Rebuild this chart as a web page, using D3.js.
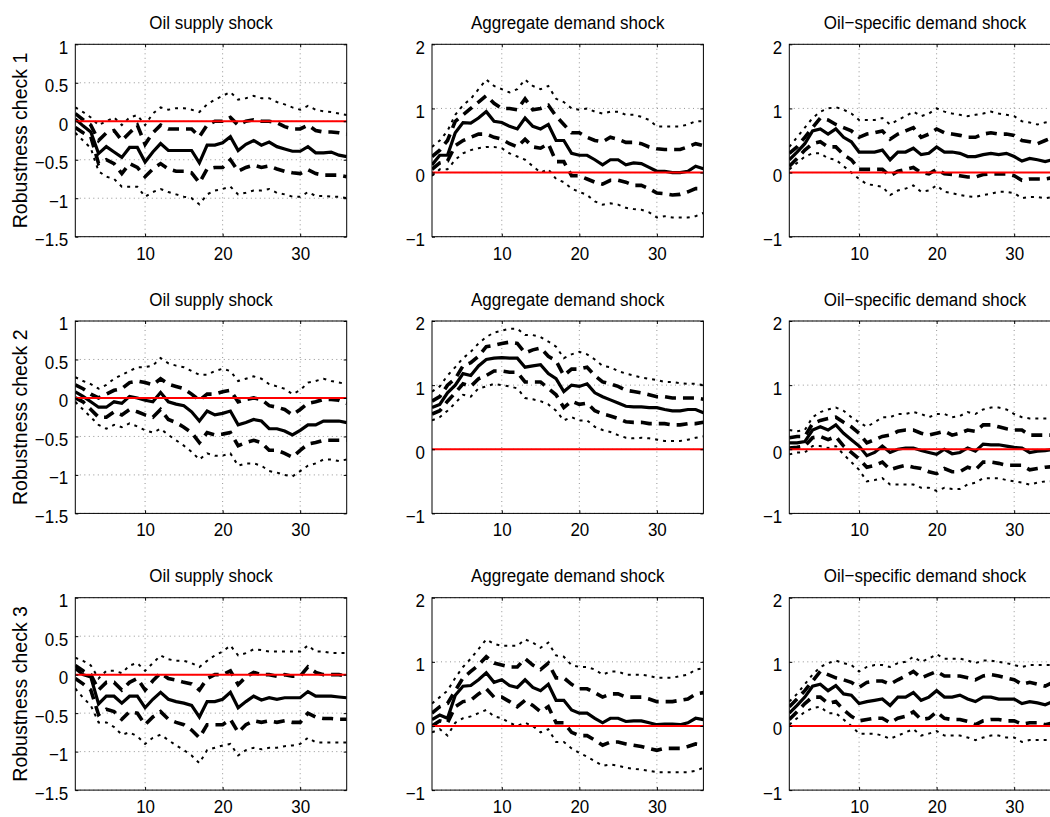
<!DOCTYPE html>
<html>
<head>
<meta charset="utf-8">
<script src="https://cdn.jsdelivr.net/npm/d3@7"></script>
<style>
  body { margin: 0; background: #fff; }
  svg { display: block; }
</style>
</head>
<body>
<svg id="chart" width="1050" height="817"></svg>
<script>
// Impulse responses over 36 horizons: median (solid), 68% band (dashed), 95% band (dotted)
const horizons = d3.range(1, 37);
const rowLabels = ["Robustness check 1", "Robustness check 2", "Robustness check 3"];
const shockTitles = ["Oil supply shock", "Aggregate demand shock", "Oil\u2212specific demand shock"];
const supplyTicks = [-1.5, -1, -0.5, 0, 0.5, 1];
const demandTicks = [-1, 0, 1, 2];
const xTicks = [10, 20, 30];

// ---- Robustness check 1 ----
const supply1Med = [0.03,-0.06,-0.14,-0.42,-0.33,-0.40,-0.47,-0.34,-0.34,-0.53,-0.40,-0.29,-0.38,-0.38,-0.38,-0.38,-0.54,-0.31,-0.31,-0.28,-0.20,-0.38,-0.30,-0.25,-0.31,-0.27,-0.33,-0.36,-0.39,-0.39,-0.33,-0.41,-0.41,-0.40,-0.44,-0.46];
const supply1Hi68 = [0.10,0.02,-0.05,-0.25,-0.15,-0.12,-0.25,-0.15,-0.05,-0.30,-0.15,-0.05,-0.10,-0.10,-0.10,-0.10,-0.20,-0.05,0.00,0.00,0.05,-0.05,0.00,0.02,0.00,0.00,-0.02,-0.07,-0.10,-0.10,-0.05,-0.12,-0.14,-0.14,-0.15,-0.17];
const supply1Lo68 = [-0.08,-0.15,-0.20,-0.55,-0.50,-0.55,-0.68,-0.55,-0.60,-0.72,-0.62,-0.55,-0.62,-0.65,-0.65,-0.67,-0.80,-0.62,-0.60,-0.60,-0.50,-0.65,-0.60,-0.57,-0.60,-0.58,-0.62,-0.65,-0.67,-0.68,-0.63,-0.68,-0.70,-0.70,-0.70,-0.72];
const supply1Hi95 = [0.18,0.12,0.05,-0.05,0.00,0.05,-0.05,0.05,0.08,-0.05,0.10,0.18,0.15,0.17,0.17,0.15,0.12,0.22,0.28,0.33,0.38,0.28,0.30,0.33,0.30,0.30,0.25,0.22,0.18,0.15,0.20,0.15,0.13,0.12,0.10,0.08];
const supply1Lo95 = [-0.15,-0.25,-0.35,-0.65,-0.72,-0.75,-0.85,-0.85,-0.85,-0.98,-0.92,-0.88,-0.92,-0.95,-0.98,-1.00,-1.08,-0.95,-0.90,-0.88,-0.85,-0.95,-0.93,-0.90,-0.90,-0.88,-0.93,-0.95,-0.98,-0.98,-0.92,-0.97,-0.97,-0.98,-0.98,-1.00];

const demand1Med = [0.12,0.27,0.27,0.62,0.78,0.77,0.85,0.95,0.80,0.78,0.72,0.68,0.85,0.72,0.68,0.75,0.50,0.50,0.30,0.27,0.27,0.20,0.12,0.20,0.20,0.12,0.15,0.14,0.08,0.02,0.02,0.00,0.00,0.02,0.10,0.06];
const demand1Hi68 = [0.25,0.35,0.50,0.80,0.90,1.00,1.10,1.20,1.08,1.00,1.00,0.98,1.15,0.98,1.00,1.05,0.88,0.75,0.62,0.62,0.55,0.50,0.48,0.55,0.52,0.47,0.47,0.45,0.40,0.37,0.36,0.36,0.36,0.40,0.45,0.42];
const demand1Lo68 = [0.05,0.15,0.18,0.42,0.50,0.55,0.60,0.60,0.55,0.52,0.45,0.40,0.52,0.40,0.38,0.45,0.17,0.17,-0.05,-0.05,-0.10,-0.15,-0.18,-0.12,-0.12,-0.15,-0.20,-0.20,-0.25,-0.32,-0.33,-0.35,-0.34,-0.30,-0.25,-0.25];
const demand1Hi95 = [0.40,0.50,0.65,0.90,1.05,1.15,1.30,1.45,1.35,1.30,1.25,1.30,1.45,1.35,1.30,1.35,1.15,1.10,1.00,0.98,1.00,0.95,0.92,0.95,0.95,0.90,0.90,0.87,0.82,0.72,0.72,0.72,0.72,0.75,0.80,0.80];
const demand1Lo95 = [-0.05,0.05,0.05,0.20,0.30,0.35,0.38,0.40,0.40,0.38,0.30,0.25,0.20,0.10,0.00,0.05,-0.10,-0.15,-0.25,-0.30,-0.35,-0.45,-0.50,-0.48,-0.50,-0.55,-0.57,-0.58,-0.62,-0.70,-0.68,-0.70,-0.70,-0.70,-0.68,-0.63];

const oil1Med = [0.20,0.32,0.45,0.65,0.68,0.60,0.68,0.55,0.48,0.32,0.32,0.32,0.35,0.20,0.32,0.32,0.38,0.28,0.30,0.40,0.32,0.32,0.30,0.25,0.25,0.28,0.30,0.28,0.30,0.25,0.18,0.22,0.20,0.17,0.20,0.20];
const oil1Hi68 = [0.30,0.40,0.55,0.70,0.85,0.82,0.75,0.70,0.65,0.55,0.60,0.62,0.65,0.52,0.60,0.65,0.70,0.55,0.60,0.68,0.62,0.60,0.58,0.55,0.55,0.60,0.62,0.60,0.60,0.58,0.50,0.48,0.45,0.50,0.55,0.50];
const oil1Lo68 = [0.10,0.22,0.35,0.45,0.48,0.40,0.40,0.28,0.20,0.05,0.05,0.05,0.05,-0.05,0.02,0.05,0.08,0.00,-0.02,0.05,-0.02,-0.03,-0.05,-0.07,-0.07,-0.03,-0.02,-0.02,-0.02,-0.05,-0.12,-0.10,-0.10,-0.10,-0.08,-0.10];
const oil1Hi95 = [0.40,0.55,0.70,0.85,0.95,1.00,1.02,0.98,0.92,0.82,0.82,0.82,0.85,0.75,0.82,0.88,0.95,0.88,0.92,1.00,0.95,0.92,0.90,0.88,0.90,0.92,0.95,0.92,0.90,0.88,0.80,0.78,0.75,0.78,0.80,0.80];
const oil1Lo95 = [0.05,0.15,0.25,0.30,0.30,0.22,0.20,0.10,0.00,-0.10,-0.18,-0.20,-0.22,-0.35,-0.28,-0.25,-0.20,-0.30,-0.28,-0.20,-0.30,-0.32,-0.35,-0.37,-0.38,-0.35,-0.33,-0.30,-0.30,-0.32,-0.40,-0.38,-0.38,-0.40,-0.38,-0.40];

// ---- Robustness check 2 ----
const supply2Med = [0.08,0.02,-0.05,-0.12,-0.12,-0.05,-0.07,0.02,0.00,-0.03,-0.05,0.07,-0.05,-0.08,-0.10,-0.18,-0.30,-0.17,-0.22,-0.20,-0.17,-0.35,-0.32,-0.28,-0.30,-0.40,-0.40,-0.43,-0.48,-0.42,-0.35,-0.35,-0.30,-0.30,-0.30,-0.32];
const supply2Hi68 = [0.17,0.12,0.05,0.00,0.05,0.10,0.12,0.20,0.22,0.20,0.17,0.25,0.18,0.15,0.12,0.05,-0.03,0.05,0.05,0.08,0.10,-0.05,-0.02,0.00,-0.02,-0.10,-0.12,-0.15,-0.22,-0.15,-0.07,-0.05,-0.02,-0.02,-0.03,-0.07];
const supply2Lo68 = [0.00,-0.05,-0.15,-0.25,-0.25,-0.18,-0.22,-0.15,-0.18,-0.22,-0.25,-0.15,-0.28,-0.32,-0.38,-0.45,-0.58,-0.45,-0.48,-0.47,-0.45,-0.62,-0.58,-0.55,-0.58,-0.68,-0.68,-0.72,-0.77,-0.68,-0.60,-0.58,-0.55,-0.55,-0.55,-0.55];
const supply2Hi95 = [0.27,0.22,0.18,0.12,0.17,0.25,0.30,0.35,0.40,0.40,0.42,0.52,0.45,0.42,0.40,0.35,0.30,0.30,0.35,0.38,0.35,0.22,0.25,0.28,0.25,0.18,0.15,0.12,0.05,0.10,0.20,0.22,0.25,0.22,0.20,0.18];
const supply2Lo95 = [-0.05,-0.15,-0.25,-0.35,-0.40,-0.35,-0.38,-0.33,-0.37,-0.42,-0.45,-0.40,-0.48,-0.55,-0.62,-0.70,-0.80,-0.72,-0.75,-0.75,-0.72,-0.88,-0.85,-0.85,-0.88,-0.95,-0.97,-1.00,-1.02,-0.95,-0.88,-0.85,-0.80,-0.80,-0.82,-0.80];

const demand2Med = [0.65,0.70,0.88,1.00,1.18,1.15,1.30,1.40,1.42,1.43,1.42,1.42,1.28,1.30,1.32,1.18,1.10,0.90,1.00,0.98,1.02,0.88,0.82,0.77,0.72,0.67,0.66,0.66,0.65,0.65,0.62,0.60,0.60,0.62,0.62,0.57];
const demand2Hi68 = [0.75,0.82,1.00,1.10,1.30,1.35,1.45,1.60,1.62,1.65,1.67,1.65,1.50,1.55,1.58,1.45,1.38,1.15,1.25,1.25,1.28,1.15,1.05,1.02,0.98,0.92,0.90,0.88,0.85,0.82,0.82,0.80,0.80,0.80,0.80,0.78];
const demand2Lo68 = [0.55,0.60,0.75,0.88,1.02,0.98,1.10,1.15,1.22,1.22,1.20,1.20,1.05,1.05,1.05,0.95,0.85,0.65,0.75,0.70,0.72,0.60,0.55,0.52,0.48,0.43,0.42,0.42,0.40,0.40,0.40,0.38,0.38,0.40,0.40,0.42];
const demand2Hi95 = [0.90,0.98,1.15,1.28,1.42,1.52,1.65,1.75,1.82,1.85,1.88,1.88,1.78,1.78,1.75,1.68,1.60,1.42,1.48,1.52,1.48,1.40,1.30,1.28,1.22,1.18,1.15,1.12,1.10,1.08,1.05,1.05,1.03,1.02,1.02,1.00];
const demand2Lo95 = [0.45,0.50,0.60,0.72,0.85,0.82,0.95,0.98,1.02,1.00,0.98,0.95,0.80,0.78,0.75,0.70,0.60,0.45,0.50,0.45,0.45,0.35,0.30,0.27,0.22,0.18,0.17,0.18,0.17,0.15,0.13,0.13,0.13,0.15,0.18,0.20];

const oil2Med = [0.10,0.10,0.12,0.30,0.35,0.30,0.38,0.25,0.15,0.05,-0.10,-0.05,0.05,-0.05,0.00,0.02,0.02,-0.02,-0.05,-0.08,0.00,-0.07,-0.05,0.02,-0.03,0.08,0.07,0.07,0.05,0.03,0.02,-0.05,-0.03,-0.02,0.00,-0.02];
const oil2Hi68 = [0.18,0.20,0.20,0.40,0.45,0.48,0.50,0.42,0.35,0.25,0.10,0.15,0.20,0.22,0.28,0.30,0.30,0.25,0.22,0.25,0.28,0.22,0.25,0.30,0.28,0.38,0.38,0.35,0.32,0.30,0.30,0.22,0.22,0.22,0.22,0.22];
const oil2Lo68 = [0.02,0.03,0.05,0.18,0.20,0.15,0.20,0.05,-0.05,-0.15,-0.28,-0.25,-0.20,-0.32,-0.28,-0.25,-0.28,-0.30,-0.35,-0.38,-0.30,-0.35,-0.35,-0.28,-0.32,-0.20,-0.20,-0.22,-0.25,-0.25,-0.25,-0.32,-0.30,-0.28,-0.27,-0.27];
const oil2Hi95 = [0.30,0.28,0.30,0.50,0.58,0.62,0.65,0.60,0.50,0.42,0.35,0.42,0.50,0.50,0.55,0.55,0.58,0.55,0.50,0.55,0.55,0.50,0.52,0.58,0.55,0.62,0.65,0.65,0.62,0.55,0.50,0.48,0.48,0.48,0.48,0.48];
const oil2Lo95 = [-0.08,-0.05,-0.05,0.05,0.05,0.02,0.05,-0.08,-0.20,-0.32,-0.50,-0.48,-0.45,-0.55,-0.55,-0.55,-0.55,-0.60,-0.60,-0.65,-0.60,-0.62,-0.62,-0.55,-0.52,-0.45,-0.45,-0.45,-0.48,-0.50,-0.52,-0.55,-0.52,-0.50,-0.50,-0.50];

// ---- Robustness check 3 ----
const supply3Med = [0.08,0.00,-0.03,-0.38,-0.28,-0.28,-0.37,-0.28,-0.28,-0.43,-0.32,-0.23,-0.32,-0.35,-0.37,-0.40,-0.55,-0.35,-0.35,-0.32,-0.23,-0.43,-0.35,-0.28,-0.33,-0.30,-0.32,-0.30,-0.30,-0.30,-0.22,-0.28,-0.28,-0.28,-0.29,-0.30];
const supply3Hi68 = [0.12,0.05,0.00,-0.20,-0.10,-0.10,-0.20,-0.10,-0.05,-0.20,-0.08,0.02,-0.05,-0.07,-0.10,-0.12,-0.20,-0.05,0.00,0.00,0.05,-0.13,-0.03,0.03,0.00,0.00,-0.02,0.00,-0.02,-0.02,0.10,0.03,0.00,0.00,0.00,-0.02];
const supply3Lo68 = [-0.05,-0.12,-0.20,-0.52,-0.45,-0.48,-0.58,-0.48,-0.50,-0.65,-0.55,-0.48,-0.58,-0.62,-0.65,-0.72,-0.82,-0.65,-0.65,-0.65,-0.58,-0.75,-0.65,-0.60,-0.62,-0.60,-0.62,-0.60,-0.62,-0.62,-0.50,-0.55,-0.57,-0.57,-0.58,-0.58];
const supply3Hi95 = [0.22,0.18,0.12,-0.05,0.05,0.05,0.02,0.12,0.15,0.05,0.15,0.25,0.20,0.18,0.18,0.15,0.10,0.18,0.25,0.30,0.38,0.25,0.28,0.33,0.32,0.30,0.30,0.30,0.30,0.30,0.38,0.30,0.30,0.28,0.28,0.28];
const supply3Lo95 = [-0.18,-0.30,-0.40,-0.62,-0.62,-0.68,-0.78,-0.75,-0.80,-0.90,-0.82,-0.78,-0.85,-0.92,-0.98,-1.05,-1.15,-0.98,-0.95,-0.92,-0.90,-1.05,-0.98,-0.95,-0.97,-0.95,-0.95,-0.93,-0.92,-0.90,-0.82,-0.88,-0.88,-0.88,-0.88,-0.88];

const demand3Med = [0.10,0.17,0.12,0.48,0.62,0.63,0.72,0.83,0.68,0.72,0.63,0.60,0.72,0.60,0.55,0.65,0.40,0.40,0.25,0.20,0.20,0.12,0.05,0.12,0.12,0.07,0.08,0.08,0.05,0.02,0.03,0.03,0.02,0.05,0.12,0.10];
const demand3Hi68 = [0.20,0.30,0.35,0.55,0.75,0.85,0.95,1.08,0.98,0.95,0.92,0.92,1.05,0.95,0.88,0.98,0.75,0.75,0.65,0.58,0.58,0.52,0.45,0.50,0.50,0.45,0.45,0.45,0.42,0.38,0.38,0.38,0.40,0.42,0.50,0.52];
const demand3Lo68 = [0.00,0.08,0.05,0.30,0.38,0.40,0.50,0.58,0.45,0.45,0.38,0.30,0.40,0.32,0.22,0.30,0.05,0.05,-0.10,-0.15,-0.15,-0.22,-0.30,-0.25,-0.25,-0.28,-0.30,-0.32,-0.35,-0.38,-0.35,-0.35,-0.35,-0.32,-0.28,-0.30];
const demand3Hi95 = [0.35,0.45,0.55,0.75,0.92,1.05,1.20,1.35,1.28,1.25,1.25,1.25,1.35,1.30,1.22,1.30,1.10,1.08,0.95,0.92,0.92,0.88,0.80,0.85,0.85,0.80,0.80,0.80,0.78,0.75,0.75,0.75,0.78,0.80,0.88,0.90];
const demand3Lo95 = [-0.10,-0.05,-0.15,0.05,0.12,0.15,0.20,0.25,0.15,0.12,0.05,0.00,0.05,0.00,-0.10,-0.05,-0.25,-0.25,-0.35,-0.42,-0.48,-0.55,-0.62,-0.60,-0.62,-0.65,-0.67,-0.68,-0.70,-0.72,-0.72,-0.72,-0.72,-0.72,-0.70,-0.65];

const oil3Med = [0.20,0.32,0.45,0.62,0.65,0.55,0.63,0.50,0.48,0.35,0.38,0.40,0.42,0.32,0.45,0.45,0.52,0.40,0.45,0.55,0.45,0.45,0.48,0.42,0.38,0.45,0.45,0.42,0.42,0.42,0.35,0.38,0.36,0.33,0.38,0.40];
const oil3Hi68 = [0.30,0.42,0.55,0.70,0.85,0.80,0.75,0.72,0.68,0.60,0.68,0.70,0.70,0.65,0.72,0.78,0.85,0.75,0.80,0.85,0.78,0.78,0.78,0.75,0.72,0.78,0.80,0.78,0.75,0.72,0.65,0.68,0.65,0.62,0.68,0.70];
const oil3Lo68 = [0.10,0.22,0.35,0.45,0.45,0.35,0.38,0.25,0.15,0.08,0.10,0.12,0.12,0.05,0.12,0.15,0.22,0.10,0.12,0.22,0.12,0.10,0.10,0.07,0.02,0.08,0.10,0.10,0.08,0.08,0.03,0.05,0.05,0.02,0.05,0.08];
const oil3Hi95 = [0.38,0.50,0.65,0.80,0.92,0.98,1.02,0.98,0.95,0.85,0.92,0.95,0.95,0.92,0.98,1.00,1.08,1.00,1.05,1.12,1.05,1.05,1.05,1.02,0.98,1.02,1.02,1.00,0.98,0.95,0.92,0.95,0.95,0.95,0.95,0.95];
const oil3Lo95 = [0.02,0.12,0.22,0.28,0.30,0.20,0.20,0.10,0.00,-0.12,-0.12,-0.12,-0.15,-0.20,-0.15,-0.10,-0.05,-0.15,-0.12,-0.08,-0.15,-0.15,-0.15,-0.18,-0.22,-0.18,-0.15,-0.15,-0.18,-0.18,-0.25,-0.22,-0.22,-0.22,-0.22,-0.22];

// Grid of panels: rows = robustness checks, columns = shocks
const panelSeries = [
  [[supply1Med, supply1Hi68, supply1Lo68, supply1Hi95, supply1Lo95],
   [demand1Med, demand1Hi68, demand1Lo68, demand1Hi95, demand1Lo95],
   [oil1Med, oil1Hi68, oil1Lo68, oil1Hi95, oil1Lo95]],
  [[supply2Med, supply2Hi68, supply2Lo68, supply2Hi95, supply2Lo95],
   [demand2Med, demand2Hi68, demand2Lo68, demand2Hi95, demand2Lo95],
   [oil2Med, oil2Hi68, oil2Lo68, oil2Hi95, oil2Lo95]],
  [[supply3Med, supply3Hi68, supply3Lo68, supply3Hi95, supply3Lo95],
   [demand3Med, demand3Hi68, demand3Lo68, demand3Hi95, demand3Lo95],
   [oil3Med, oil3Hi68, oil3Lo68, oil3Hi95, oil3Lo95]]
];

// Layout
const colLeft = [75.3, 432, 789.3];
const rowTop = [44.3, 321, 597.7];
const plotW = 271.4;
const plotH = 192.4;
const FONT = "'Liberation Sans', Arial, Helvetica, sans-serif";
const stretch = 1.12;   // slightly tall glyphs of the tick and title text

const svg = d3.select("#chart");
svg.append("rect").attr("width", 1050).attr("height", 817).attr("fill", "#fff");

const fmt = d => d3.format("~g")(d);

panelSeries.forEach((rowSeries, r) => {
  rowSeries.forEach((series, c) => {
    const yTicks = c === 0 ? supplyTicks : demandTicks;
    const x = d3.scaleLinear().domain([1, 36]).range([0, plotW]);
    const y = d3.scaleLinear().domain([yTicks[0], yTicks[yTicks.length - 1]]).range([plotH, 0]);

    const g = svg.append("g").attr("transform", `translate(${colLeft[c]},${rowTop[r]})`);
    const clipId = `clip-${r}-${c}`;
    g.append("clipPath").attr("id", clipId)
      .append("rect").attr("width", plotW).attr("height", plotH);

    // dotted grid
    const grid = g.append("g").attr("stroke", "#666").attr("stroke-width", 0.7)
      .attr("stroke-dasharray", "1,3.5").attr("fill", "none");
    grid.selectAll("line.gx").data(xTicks).join("line")
      .attr("x1", d => x(d)).attr("x2", d => x(d)).attr("y1", 0).attr("y2", plotH);
    grid.selectAll("line.gy").data(yTicks).join("line")
      .attr("y1", d => y(d)).attr("y2", d => y(d)).attr("x1", 0).attr("x2", plotW);

    // impulse responses
    const line = d3.line().x((d, i) => x(horizons[i])).y(d => y(d));
    const plot = g.append("g").attr("clip-path", `url(#${clipId})`).attr("fill", "none");
    const [med, hi68, lo68, hi95, lo95] = series;
    [hi95, lo95].forEach(s => plot.append("path").datum(s).attr("d", line)
      .attr("stroke", "#000").attr("stroke-width", 2).attr("stroke-dasharray", "3,5"));
    [hi68, lo68].forEach(s => plot.append("path").datum(s).attr("d", line)
      .attr("stroke", "#000").attr("stroke-width", 3.6).attr("stroke-dasharray", "11,7"));
    plot.append("path").datum(med).attr("d", line)
      .attr("stroke", "#000").attr("stroke-width", 3.2);
    // zero line
    plot.append("line").attr("x1", 0).attr("x2", plotW).attr("y1", y(0)).attr("y2", y(0))
      .attr("stroke", "#ff0000").attr("stroke-width", 2);

    // axes with inward ticks
    const yAxis = g.append("g").call(d3.axisLeft(y).tickValues(yTicks).tickFormat(fmt)
      .tickSize(-3).tickPadding(7));
    const xAxis = g.append("g").attr("transform", `translate(0,${plotH})`)
      .call(d3.axisBottom(x).tickValues(xTicks).tickFormat(fmt).tickSize(-3).tickPadding(8.5));
    g.append("g").call(d3.axisRight(y).tickValues(yTicks).tickSize(-3).tickFormat(""))
      .attr("transform", `translate(${plotW},0)`);
    g.append("g").call(d3.axisTop(x).tickValues(xTicks).tickSize(-3).tickFormat(""));
    g.selectAll(".domain").remove();
    g.selectAll(".tick line").attr("stroke", "#000").attr("stroke-width", 1);
    [yAxis, xAxis].forEach(a => a.selectAll("text")
      .attr("font-family", FONT).attr("font-size", 17).attr("fill", "#000")
      .attr("transform", `scale(1,${stretch})`));
    yAxis.selectAll("text").attr("dy", "0.47em");

    // box
    g.append("rect").attr("width", plotW).attr("height", plotH)
      .attr("fill", "none").attr("stroke", "#000").attr("stroke-width", 1);

    // title
    g.append("text")
      .attr("transform", `translate(${plotW / 2},-15.5) scale(1,${stretch})`)
      .attr("text-anchor", "middle").attr("font-family", FONT).attr("font-size", 17)
      .text(shockTitles[c]);

    // row label
    if (c === 0) {
      svg.append("text")
        .attr("transform", `translate(26.5,${rowTop[r] + plotH / 2}) rotate(-90)`)
        .attr("text-anchor", "middle").attr("font-family", FONT).attr("font-size", 19.5)
        .text(rowLabels[r]);
    }
  });
});
</script>
</body>
</html>
